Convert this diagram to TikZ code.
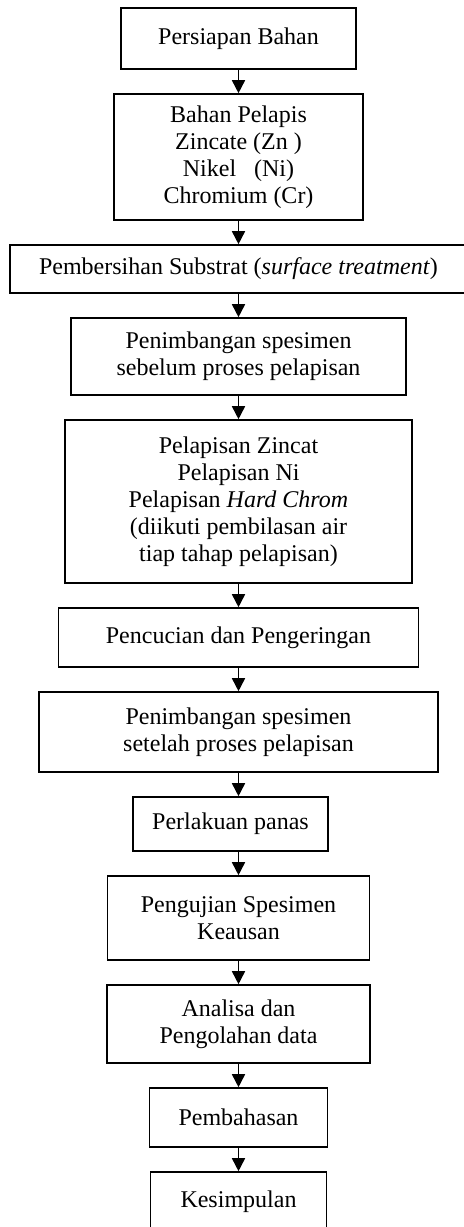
\documentclass[tikz,border=0pt]{standalone}
\usepackage{fontspec}
\setmainfont{Liberation Serif}
\usetikzlibrary{arrows.meta}
\usetikzlibrary{positioning}

\begin{document}
\begin{tikzpicture}[
        blok/.style={draw, thick, align=center, font=\fontsize{12}{13.5}\selectfont},
        panah/.style={-{Triangle[width=6.5pt,length=6.5pt]}, thick},
        node distance=11.7pt
    ]
        \useasboundingbox (0,0) rectangle (232pt,-613.5pt);

        \node[blok,minimum width=117.5pt,minimum height=30.5pt] (persiapan) at (119.25pt,-19.25pt) {Persiapan Bahan};
        \node[blok,minimum width=124.5pt,minimum height=63pt, below=of persiapan] (bahan) {Bahan Pelapis\\Zincate (Zn~)\\Nikel~~~(Ni)\\Chromium (Cr)};
        \node[blok,minimum width=228.5pt,minimum height=24pt, below=of bahan] (bersih) {Pembersihan Substrat (\textit{surface treatment})};
        \node[blok,minimum width=167.5pt,minimum height=38.5pt, below=of bersih] (timbang1) {Penimbangan spesimen\\sebelum proses pelapisan};
        \node[blok,minimum width=173.5pt,minimum height=81.5pt, below=of timbang1] (lapis) {Pelapisan Zincat\\Pelapisan Ni\\Pelapisan \textit{Hard Chrom}\\(diikuti pembilasan air\\tiap tahap pelapisan)};
        \node[blok,minimum width=180pt,minimum height=29.5pt, below=of lapis] (cuci) {Pencucian dan Pengeringan};
        \node[blok,minimum width=199.5pt,minimum height=40pt, below=of cuci] (timbang2) {Penimbangan spesimen\\setelah proses pelapisan};
        \node[blok,minimum width=97.5pt,minimum height=27pt, below=of timbang2, xshift=-4pt] (panas) {Perlakuan panas};
        \node[blok,minimum width=131pt,minimum height=42pt, below=of panas, xshift=4pt] (uji) {Pengujian Spesimen\\Keausan};
        \node[blok,minimum width=131.5pt,minimum height=39pt, below=of uji] (analisa) {Analisa dan\\Pengolahan data};
        \node[blok,minimum width=89pt,minimum height=29.5pt, below=of analisa] (bahas) {Pembahasan};
        \node[blok,minimum width=88pt,minimum height=30pt, below=of bahas] (simpul) {Kesimpulan};

        \draw[panah] (persiapan) -- (bahan);
        \draw[panah] (bahan) -- (bersih);
        \draw[panah] (bersih) -- (timbang1);
        \draw[panah] (timbang1) -- (lapis);
        \draw[panah] (lapis) -- (cuci);
        \draw[panah] (cuci) -- (timbang2);
        % panas sits a bit to the left
        \draw[panah] (timbang2) -- (timbang2 |- panas.north);
        \draw[panah] (panas.south -| uji) -- (uji);
        \draw[panah] (uji) -- (analisa);
        \draw[panah] (analisa) -- (bahas);
        \draw[panah] (bahas) -- (simpul);
    \end{tikzpicture}
\end{document}
